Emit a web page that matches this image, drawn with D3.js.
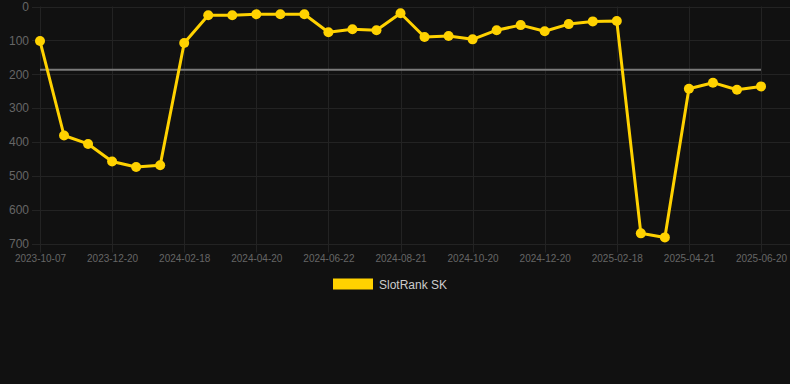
<!DOCTYPE html>
<html>
<head>
<meta charset="utf-8">
<script src="https://cdn.jsdelivr.net/npm/d3@7"></script>
<style>
  html, body { margin: 0; padding: 0; background: #111111; }
  svg { display: block; font-family: "Liberation Sans", Arial, Helvetica, sans-serif; }
</style>
</head>
<body>
<svg id="chart" width="790" height="384"></svg>
<script>
// ---- data ----
const dates = [
  "2023-10-07", "2023-10-31", "2023-11-25",
  "2023-12-20", "2024-01-09", "2024-01-29",
  "2024-02-18", "2024-03-09", "2024-03-30",
  "2024-04-20", "2024-05-11", "2024-06-01",
  "2024-06-22", "2024-07-12", "2024-08-01",
  "2024-08-21", "2024-09-10", "2024-09-30",
  "2024-10-20", "2024-11-09", "2024-11-30",
  "2024-12-20", "2025-01-09", "2025-01-29",
  "2025-02-18", "2025-03-10", "2025-03-31",
  "2025-04-21", "2025-05-11", "2025-05-31",
  "2025-06-20"
];
const ranks = [
  102, 381, 406, 458, 474, 469,
  108, 26, 26, 23, 23, 23,
  76, 67, 70, 20, 90, 87,
  97, 70, 55, 73, 52, 44,
  43, 670, 682, 243, 225, 246,
  236
];
const averageRank = 187;
const yTicks = [0, 100, 200, 300, 400, 500, 600, 700];
const xTickLabels = ["2023-10-07", "2023-12-20", "2024-02-18", "2024-04-20", "2024-06-22",
  "2024-08-21", "2024-10-20", "2024-12-20", "2025-02-18", "2025-04-21", "2025-06-20"];
const seriesName = "SlotRank SK";

// ---- layout ----
const W = 790, H = 384;
const mLeft = 40, mRight = 761, plotRight = 790, mTop = 6.5, mBottom = 243.5;
const yellow = "#ffd200";
const gridColor = "#232323";

const svg = d3.select("#chart");
svg.append("rect").attr("width", W).attr("height", H).attr("fill", "#111111");

const x = d3.scalePoint().domain(dates).range([mLeft, mRight]);
const y = d3.scaleLinear().domain([0, 700]).range([mTop, mBottom]);

// horizontal grid
const gy = svg.append("g");
gy.selectAll("line").data(yTicks).join("line")
  .attr("x1", mLeft - 8).attr("x2", plotRight)
  .attr("y1", d => Math.round(y(d)) + 0.5).attr("y2", d => Math.round(y(d)) + 0.5)
  .attr("stroke", gridColor).attr("stroke-width", 1);

// vertical grid at labelled ticks
const gx = svg.append("g");
gx.selectAll("line").data(xTickLabels).join("line")
  .attr("x1", d => Math.round(x(d)) + 0.5).attr("x2", d => Math.round(x(d)) + 0.5)
  .attr("y1", mTop).attr("y2", mBottom + 9)
  .attr("stroke", gridColor).attr("stroke-width", 1);

// y axis labels
const yAxis = d3.axisLeft(y).tickValues(yTicks).tickSize(0).tickPadding(0);
const yg = svg.append("g").attr("transform", `translate(${mLeft - 11},0)`).call(yAxis);
yg.select(".domain").remove();
yg.selectAll("text").attr("fill", "#666666").style("font-size", "12px")
  .style("font-family", "'Liberation Sans', Arial, sans-serif");

// x axis labels
const xAxis = d3.axisBottom(x).tickValues(xTickLabels).tickSize(0).tickPadding(0);
const xg = svg.append("g").attr("transform", `translate(0,${mBottom + 11})`).call(xAxis);
xg.select(".domain").remove();
xg.selectAll("text").attr("fill", "#666666").style("font-size", "10px")
  .style("font-family", "'Liberation Sans', Arial, sans-serif");

// average line
svg.append("line")
  .attr("x1", x(dates[0])).attr("x2", x(dates[dates.length - 1]))
  .attr("y1", y(averageRank)).attr("y2", y(averageRank))
  .attr("stroke", "#7a7a7a").attr("stroke-width", 2);

// series line
const pts = dates.map((d, i) => ({ d, v: ranks[i] }));
svg.append("path").datum(pts)
  .attr("fill", "none").attr("stroke", yellow).attr("stroke-width", 3)
  .attr("stroke-linejoin", "round")
  .attr("d", d3.line().x(p => x(p.d)).y(p => y(p.v)));

svg.append("g").selectAll("circle").data(pts).join("circle")
  .attr("cx", p => x(p.d)).attr("cy", p => y(p.v)).attr("r", 5)
  .attr("fill", yellow);

// legend
const lg = svg.append("g");
lg.append("rect").attr("x", 333).attr("y", 278.5).attr("width", 40).attr("height", 11)
  .attr("fill", yellow);
lg.append("text").attr("x", 379).attr("y", 284.5).attr("dy", "0.35em")
  .attr("fill", "#cccccc").style("font-size", "12px").text(seriesName);
</script>
</body>
</html>
